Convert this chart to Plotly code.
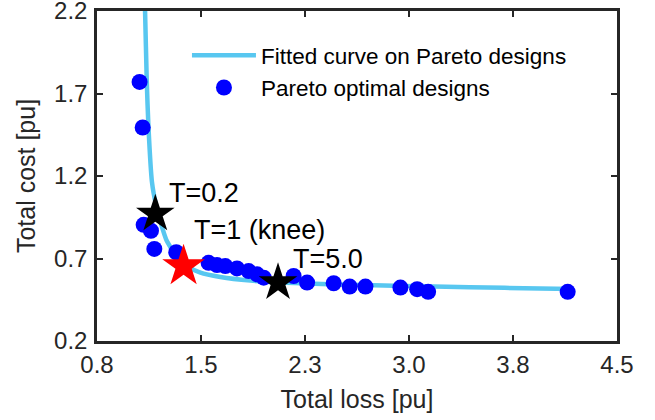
import plotly.graph_objects as go

# fitted curve
curve_loss = [1.135, 1.142, 1.154, 1.166, 1.191, 1.221, 1.251, 1.298, 1.369, 1.44,
              1.536, 1.678, 1.891, 2.10, 2.40, 2.77, 3.20, 3.70, 4.18]
curve_cost = [2.35, 2.20, 1.775, 1.50, 1.164, 1.02, 0.924, 0.804, 0.714, 0.655,
              0.614, 0.588, 0.566, 0.555, 0.545, 0.538, 0.530, 0.522, 0.515]

# pareto optimal designs
pareto_loss = [1.103, 1.125, 1.132, 1.184, 1.208, 1.364, 1.594, 1.654, 1.713, 1.796, 1.879,
               1.939, 1.986, 2.199, 2.295, 2.484, 2.598, 2.710, 2.959, 3.078, 3.156, 4.149]
pareto_cost = [1.770, 1.494, 0.904, 0.868, 0.758, 0.738, 0.674, 0.660, 0.654, 0.640, 0.624,
               0.604, 0.584, 0.594, 0.554, 0.550, 0.530, 0.530, 0.524, 0.514, 0.498, 0.498]

# highlighted designs
t_labels = ["T=0.2", "T=5.0"]
t_loss = [1.215, 2.088]
t_cost = [0.970, 0.554]
knee_label = "T=1 (knee)"
knee_loss = [1.416]
knee_cost = [0.654]

x_ticks = [0.8, 1.54, 2.28, 3.02, 3.76, 4.5]
x_ticktext = ["0.8", "1.5", "2.3", "3.0", "3.8", "4.5"]
y_ticks = [0.2, 0.7, 1.2, 1.7, 2.2]
y_ticktext = ["0.2", "0.7", "1.2", "1.7", "2.2"]

AX = "#262626"
FONT = "Liberation Sans, Arial, sans-serif"

fig = go.Figure()
fig.add_trace(go.Scatter(x=curve_loss, y=curve_cost, mode="lines",
                         line=dict(color="#58c7f0", width=4.5, shape="spline", smoothing=0.6),
                         name="Fitted curve on Pareto designs"))
fig.add_trace(go.Scatter(x=pareto_loss, y=pareto_cost, mode="markers",
                         marker=dict(color="#0000ff", size=16, line=dict(width=0)),
                         name="Pareto optimal designs"))
fig.add_trace(go.Scatter(x=t_loss, y=t_cost, mode="markers", showlegend=False,
                         marker=dict(symbol="star", color="black", size=29, line=dict(width=0))))
fig.add_trace(go.Scatter(x=knee_loss, y=knee_cost, mode="markers", showlegend=False,
                         marker=dict(symbol="star", color="red", size=32, line=dict(width=0))))

# text labels next to the stars
label_pos = [(1.297, 1.100, t_labels[0]), (1.477, 0.874, knee_label), (2.177, 0.700, t_labels[1])]
for lx, ly, txt in label_pos:
    fig.add_annotation(x=lx, y=ly, text=txt, showarrow=False, xanchor="left", yanchor="middle",
                       font=dict(size=27, color="black", family=FONT))

axis_common = dict(showline=True, linewidth=2.5, linecolor=AX, mirror="ticks",
                   ticks="inside", ticklen=6, tickwidth=2, tickcolor=AX,
                   showgrid=False, zeroline=False, automargin=False,
                   ticklabeloverflow="allow",
                   tickfont=dict(size=24, color=AX, family=FONT))

fig.update_xaxes(range=[0.8, 4.5], tickvals=x_ticks, ticktext=x_ticktext,
                 title=dict(text="Total loss [pu]", font=dict(size=25, color=AX, family=FONT), standoff=14),
                 **axis_common)
fig.update_yaxes(range=[0.2, 2.2], tickvals=y_ticks, ticktext=y_ticktext, ticklabelstandoff=2,
                 title=dict(text="Total cost [pu]", font=dict(size=25, color=AX, family=FONT), standoff=12),
                 **axis_common)

fig.update_layout(width=655, height=420, margin=dict(l=97, r=38, t=11, b=79),
                  plot_bgcolor="white", paper_bgcolor="white",
                  font=dict(family=FONT, color=AX),
                  legend=dict(x=0.173, y=0.93, xanchor="left", yanchor="top",
                              bgcolor="rgba(0,0,0,0)", itemwidth=64,
                              font=dict(size=22.5, color="black", family=FONT)))

# page body has a default 8px margin; drop it so the figure sits at the window corner
fig.write_html("out.html", config={"displayModeBar": False},
               post_script="document.body.style.margin='0';")
